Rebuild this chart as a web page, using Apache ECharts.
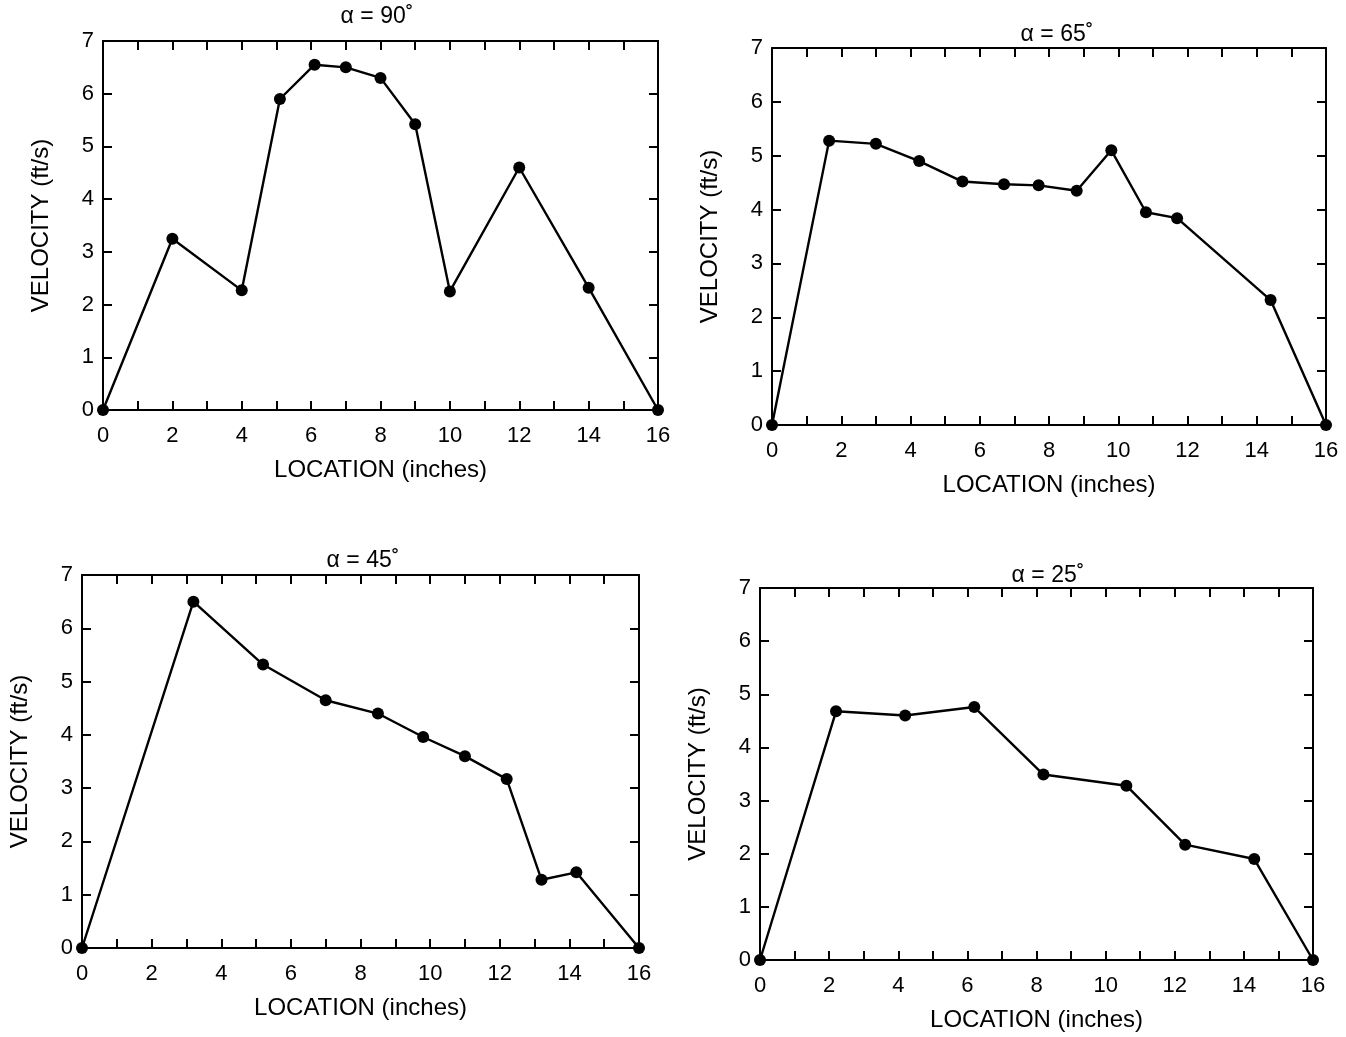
<!DOCTYPE html>
<html>
<head>
<meta charset="UTF-8">
<title>Velocity profiles</title>
<script src="https://cdn.jsdelivr.net/npm/echarts@6.0.0/dist/echarts.min.js"></script>
<style>
  html, body { margin: 0; padding: 0; background: #fff; }
  #chart { width: 1346px; height: 1037px; }
</style>
</head>
<body>
<div id="chart"></div>
<script>
// values
var loc90 = [0, 2, 4, 5.1, 6.1, 7, 8, 9, 10, 12, 14, 16];
var vel90 = [0, 3.25, 2.27, 5.9, 6.55, 6.5, 6.3, 5.42, 2.25, 4.6, 2.32, 0];

var loc65 = [0, 1.65, 3.0, 4.25, 5.5, 6.7, 7.7, 8.8, 9.8, 10.8, 11.7, 14.4, 16];
var vel65 = [0, 5.28, 5.22, 4.9, 4.52, 4.47, 4.45, 4.35, 5.1, 3.95, 3.84, 2.32, 0];

var loc45 = [0, 3.2, 5.2, 7.0, 8.5, 9.8, 11.0, 12.2, 13.2, 14.2, 16];
var vel45 = [0, 6.5, 5.32, 4.65, 4.4, 3.96, 3.6, 3.17, 1.28, 1.42, 0];

var loc25 = [0, 2.2, 4.2, 6.2, 8.2, 10.6, 12.3, 14.3, 16];
var vel25 = [0, 4.68, 4.6, 4.76, 3.49, 3.28, 2.17, 1.9, 0];

var panelTitles = ['α = 90˚', 'α = 65˚', 'α = 45˚', 'α = 25˚'];
var xName = 'LOCATION (inches)';
var yName = 'VELOCITY (ft/s)';

var panels = [
  { x: loc90, y: vel90, grid: { left: 103, top: 41, width: 555, height: 369 }, titleX: 372, titleY: 0 },
  { x: loc65, y: vel65, grid: { left: 772, top: 48, width: 554, height: 377 }, titleX: 1052, titleY: 18 },
  { x: loc45, y: vel45, grid: { left: 82, top: 575, width: 557, height: 373 }, titleX: 358, titleY: 544 },
  { x: loc25, y: vel25, grid: { left: 760, top: 588, width: 553, height: 372 }, titleX: 1043, titleY: 559 }
];

var font = 'Liberation Sans, Arial, sans-serif';
var frame = { color: '#000', width: 2 };

var option = { backgroundColor: '#fff', animation: false, title: [], grid: [], xAxis: [], yAxis: [], series: [] };

panels.forEach(function (p, i) {
  option.title.push({
    text: panelTitles[i], left: p.titleX, top: p.titleY, textAlign: 'center',
    textStyle: { fontFamily: font, fontSize: 23, fontWeight: 'normal', color: '#000' }
  });
  option.grid.push(p.grid);

  // bottom axis with labels, top axis only for the frame ticks
  option.xAxis.push({
    type: 'value', gridIndex: i, min: 0, max: 16, interval: 2,
    name: xName, nameLocation: 'middle', nameGap: 48,
    nameTextStyle: { fontFamily: font, fontSize: 24, color: '#000' },
    axisLine: { onZero: false, lineStyle: frame },
    axisTick: { inside: true, length: 9, lineStyle: frame },
    minorTick: { show: true, splitNumber: 2, length: 9, lineStyle: frame },
    axisLabel: { margin: 15, fontFamily: font, fontSize: 22, color: '#000' },
    splitLine: { show: false }
  });
  option.xAxis.push({
    type: 'value', gridIndex: i, min: 0, max: 16, interval: 2, position: 'top',
    axisLine: { onZero: false, lineStyle: frame },
    axisTick: { inside: true, length: 9, lineStyle: frame },
    minorTick: { show: true, splitNumber: 2, length: 9, lineStyle: frame },
    axisLabel: { show: false },
    splitLine: { show: false }
  });
  option.yAxis.push({
    type: 'value', gridIndex: i, min: 0, max: 7, interval: 1,
    name: yName, nameLocation: 'middle', nameGap: 50,
    nameTextStyle: { fontFamily: font, fontSize: 24, color: '#000' },
    axisLine: { onZero: false, lineStyle: frame },
    axisTick: { inside: true, length: 9, lineStyle: frame },
    axisLabel: { margin: 9, fontFamily: font, fontSize: 22, color: '#000' },
    splitLine: { show: false }
  });
  option.yAxis.push({
    type: 'value', gridIndex: i, min: 0, max: 7, interval: 1, position: 'right',
    axisLine: { onZero: false, lineStyle: frame },
    axisTick: { inside: true, length: 9, lineStyle: frame },
    axisLabel: { show: false },
    splitLine: { show: false }
  });

  option.series.push({
    type: 'line', xAxisIndex: i * 2, yAxisIndex: i * 2,
    data: p.x.map(function (v, k) { return [v, p.y[k]]; }),
    symbol: 'circle', symbolSize: 12, clip: false,
    itemStyle: { color: '#000' },
    lineStyle: { color: '#000', width: 2.4 }
  });
});

var chart = echarts.init(document.getElementById('chart'));
chart.setOption(option);
</script>
</body>
</html>
